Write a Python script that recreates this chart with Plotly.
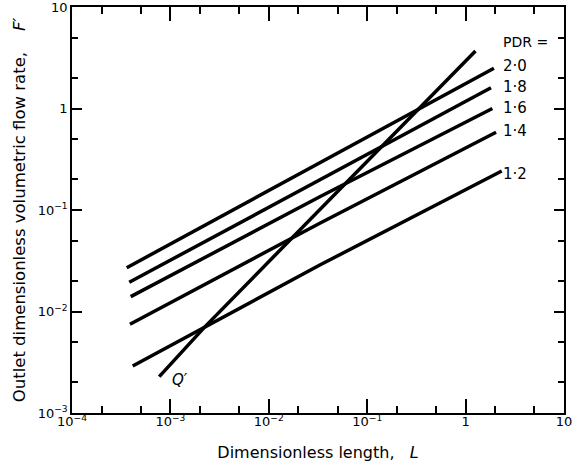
import plotly.graph_objects as go

# ---- data ----
pdr_labels = ["2·0", "1·8", "1·6", "1·4", "1·2"]
pdr_x = [
    [3.6e-4, 0.033, 1.94],
    [3.82e-4, 0.033, 1.81],
    [3.95e-4, 0.033, 1.87],
    [3.88e-4, 0.033, 2.04],
    [4.14e-4, 0.033, 2.33],
]
pdr_y = [
    [0.027, 0.292, 2.49],
    [0.0194, 0.200, 1.60],
    [0.014, 0.135, 1.0],
    [0.0075, 0.074, 0.583],
    [0.0029, 0.0287, 0.242],
]
q_x = [7.7e-4, 2.25e-3, 1.26]
q_y = [0.00228, 0.0071, 3.69]

x_tickvals = [1e-4, 1e-3, 1e-2, 1e-1, 1, 10]
x_ticktext = ["10<sup>−4</sup>", "10<sup>−3</sup>", "10<sup>−2</sup>", "10<sup>−1</sup>", "1", "10"]
y_tickvals = [1e-3, 1e-2, 1e-1, 1, 10]
y_ticktext = ["10<sup>−3</sup>", "10<sup>−2</sup>", "10<sup>−1</sup>", "1", "10"]

FONT = "DejaVu Sans"
fig = go.Figure()
for xs, ys, lab in zip(pdr_x, pdr_y, pdr_labels):
    fig.add_trace(go.Scatter(x=xs, y=ys, mode="lines", name="PDR " + lab,
                             line=dict(color="black", width=3.5), showlegend=False))
fig.add_trace(go.Scatter(x=q_x, y=q_y, mode="lines", name="Q′",
                         line=dict(color="black", width=3.5), showlegend=False))

# label positions (log10 coordinates)
label_lx = 0.36
label_ly = [0.422, 0.215, 0.002, -0.222, -0.645]
for lab, ly in zip(pdr_labels, label_ly):
    fig.add_annotation(x=label_lx, y=ly, xref="x", yref="y", text=lab, showarrow=False,
                       xanchor="left", yanchor="middle", font=dict(family=FONT, size=15, color="black"))
fig.add_annotation(x=label_lx, y=0.655, xref="x", yref="y", text="PDR =", showarrow=False,
                   xanchor="left", yanchor="middle", font=dict(family=FONT, size=14, color="black"))
fig.add_annotation(x=-2.90, y=-2.67, xref="x", yref="y", text="<i>Q′</i>", showarrow=False,
                   xanchor="center", yanchor="middle", font=dict(family=FONT, size=15, color="black"))

minor_vals = []
for e in range(-5, 2):
    minor_vals += [2 * 10 ** e, 5 * 10 ** e]

common = dict(type="log", showgrid=False, zeroline=False, showline=True, linecolor="black",
              linewidth=1.5, mirror="ticks", ticks="inside", tickcolor="black", tickwidth=1.5,
              automargin=False, ticklabeloverflow="allow",
              tickfont=dict(family=FONT, size=13, color="black"))

fig.update_xaxes(**common, range=[-4, 1], tickvals=x_tickvals, ticktext=x_ticktext, ticklen=14,
                 ticklabelstandoff=-4,
                 minor=dict(tickvals=minor_vals, ticklen=7, ticks="inside", tickcolor="black", tickwidth=1.5),
                 title=dict(text="Dimensionless length,   <i>L</i>", standoff=18,
                            font=dict(family=FONT, size=16, color="black")))
fig.update_yaxes(**common, range=[-3, 1], tickvals=y_tickvals, ticktext=y_ticktext, ticklen=10,
                 minor=dict(tickvals=minor_vals, ticklen=6, ticks="inside", tickcolor="black", tickwidth=1.5),
                 title=dict(text="Outlet dimensionless volumetric flow rate,    <i>F′</i>", standoff=8,
                            font=dict(family=FONT, size=16.5, color="black")))

fig.update_layout(width=587, height=468, margin=dict(l=72, r=23, t=7, b=55),
                  plot_bgcolor="white", paper_bgcolor="white",
                  font=dict(family=FONT, color="black"))
fig.write_html("out.html", config={"displayModeBar": False},
               post_script="document.body.style.margin='0';document.body.style.overflow='hidden';")
